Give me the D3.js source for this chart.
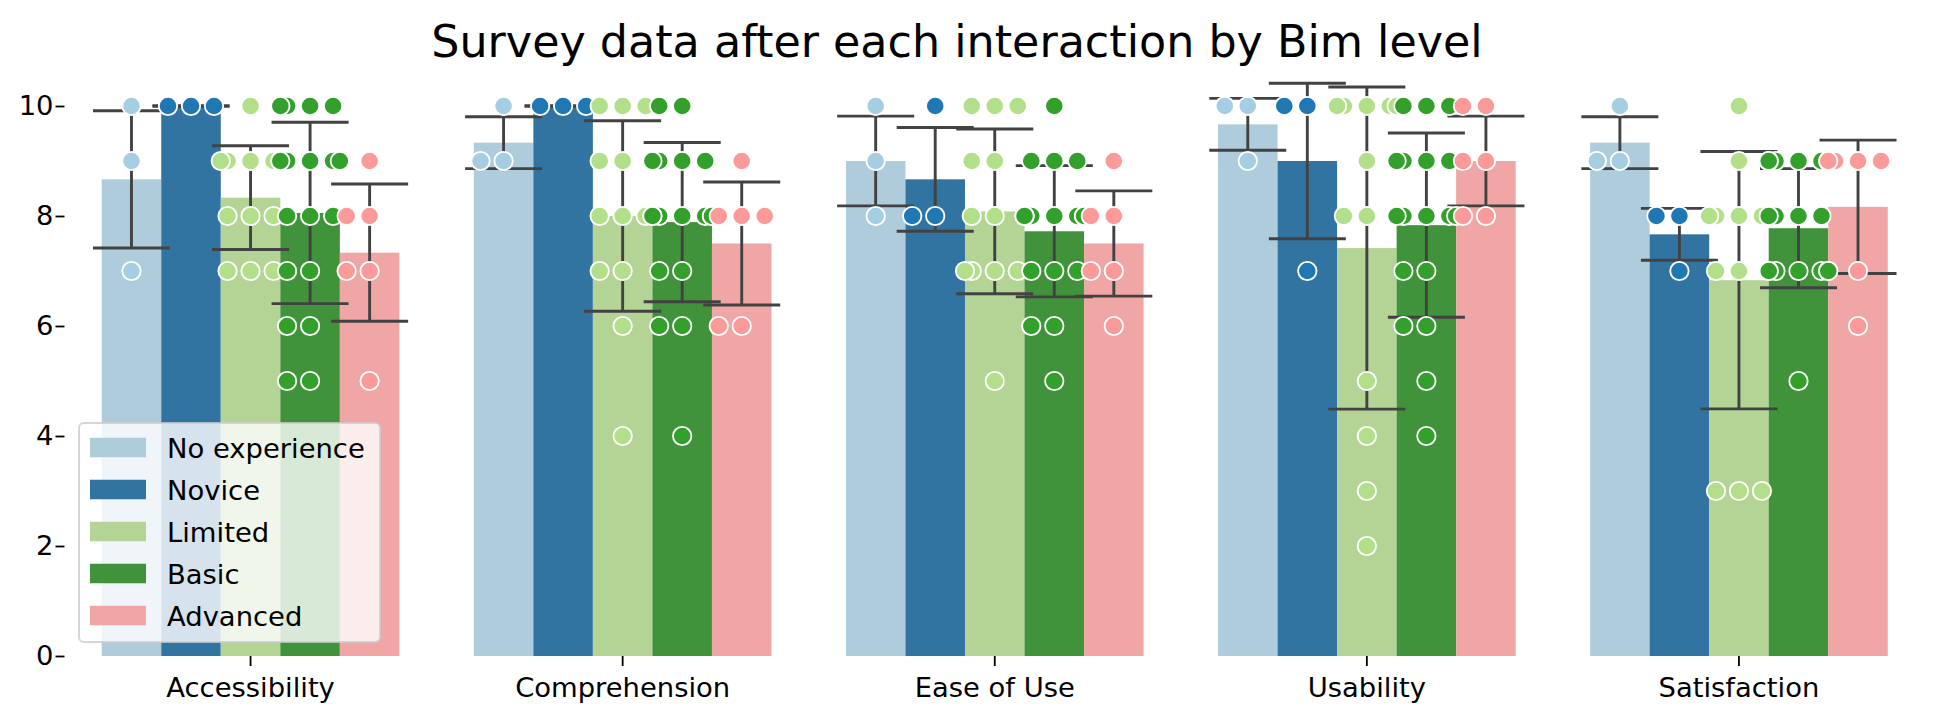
<!DOCTYPE html>
<html><head><meta charset="utf-8">
<script src="https://cdn.jsdelivr.net/npm/d3@7"></script>
<style>
body{margin:0;background:#fff;}
text{font-family:"DejaVu Sans",sans-serif;}
</style>
</head><body><svg id="chart" width="1944" height="723"></svg>
<script>
// ---------- data ----------
const title = "Survey data after each interaction by Bim level";
const metrics = ["Accessibility", "Comprehension", "Ease of Use", "Usability", "Satisfaction"];
const levels = ["No experience", "Novice", "Limited", "Basic", "Advanced"];
const pointColors = ["#a6cee3", "#1f78b4", "#b2df8a", "#33a02c", "#fb9a99"];
const yTicks = [0, 2, 4, 6, 8, 10];

// individual ratings, one list per BIM level (same order as `levels`)
const accessibility = [
  [10, 9, 7],
  [10, 10, 10],
  [10, 9, 9, 9, 9, 9, 8, 8, 8, 7, 7, 7],
  [10, 10, 10, 10, 9, 9, 9, 9, 9, 8, 8, 8, 7, 7, 6, 6, 5, 5],
  [9, 8, 8, 7, 7, 5]
];
const comprehension = [
  [10, 9, 9],
  [10, 10, 10],
  [10, 10, 10, 9, 9, 8, 8, 8, 7, 7, 6, 4],
  [10, 10, 9, 9, 9, 9, 8, 8, 8, 8, 8, 8, 8, 7, 7, 6, 6, 4],
  [9, 8, 8, 8, 6, 6]
];
const easeOfUse = [
  [10, 9, 8],
  [10, 8, 8],
  [10, 10, 10, 9, 9, 8, 8, 7, 7, 7, 7, 5],
  [10, 9, 9, 9, 8, 8, 8, 8, 8, 8, 8, 8, 7, 7, 7, 6, 6, 5],
  [9, 8, 8, 7, 7, 6]
];
const usability = [
  [10, 10, 9],
  [10, 10, 7],
  [10, 10, 10, 10, 10, 9, 8, 8, 5, 4, 3, 2],
  [10, 10, 10, 9, 9, 9, 9, 8, 8, 8, 8, 8, 7, 7, 6, 6, 5, 4],
  [10, 10, 9, 9, 8, 8]
];
const satisfaction = [
  [10, 9, 9],
  [8, 8, 7],
  [10, 9, 8, 8, 8, 8, 8, 7, 7, 3, 3, 3],
  [9, 9, 9, 9, 9, 9, 8, 8, 8, 8, 7, 7, 7, 7, 7, 7, 7, 5],
  [9, 9, 9, 9, 7, 6]
];
const scoresByMetric = [accessibility, comprehension, easeOfUse, usability, satisfaction];

// ---------- layout ----------
const svg = d3.select("#chart");
const panelLeft = 64.5, panelW = 372.1;
const x0 = d3.scaleBand().domain(metrics)
  .range([panelLeft, panelLeft + panelW * metrics.length]).padding(0);
const x1 = d3.scaleBand().domain(levels)
  .range([0.1 * x0.bandwidth(), 0.9 * x0.bandwidth()]).padding(0);
const y = d3.scaleLinear().domain([0, 10]).range([656, 106]);
const barColor = d3.scaleOrdinal().domain(levels).range(pointColors.map(c => {
  const h = d3.hsl(c); h.s *= 0.75; return h.formatHex();
}));
const ptColor = d3.scaleOrdinal().domain(levels).range(pointColors);

svg.append("rect").attr("width", 1944).attr("height", 723).attr("fill", "#fff");

// groups with stats
const groups = [];
metrics.forEach((m, mi) => {
  levels.forEach((l, li) => {
    const vals = scoresByMetric[mi][li];
    const mean = d3.mean(vals);
    const sd = Math.sqrt(d3.mean(vals, v => (v - mean) * (v - mean)));
    groups.push({metric: m, level: l, vals, mean, sd,
      cx: x0(m) + x1(l) + x1.bandwidth() / 2});
  });
});

// bars
svg.append("g").selectAll("rect").data(groups).join("rect")
  .attr("x", d => x0(d.metric) + x1(d.level))
  .attr("width", x1.bandwidth())
  .attr("y", d => y(d.mean))
  .attr("height", d => y(0) - y(d.mean))
  .attr("fill", d => barColor(d.level));

// error bars (mean ± sd)
const capHalf = x0.bandwidth() * 0.1035;
const eg = svg.append("g").attr("stroke", "#424242").attr("stroke-width", 2.9).attr("fill", "none");
groups.forEach(d => {
  const lo = y(d.mean - d.sd), hi = y(d.mean + d.sd);
  eg.append("line").attr("x1", d.cx).attr("x2", d.cx).attr("y1", lo).attr("y2", hi);
  eg.append("line").attr("x1", d.cx - capHalf).attr("x2", d.cx + capHalf).attr("y1", lo).attr("y2", lo);
  eg.append("line").attr("x1", d.cx - capHalf).attr("x2", d.cx + capHalf).attr("y1", hi).attr("y2", hi);
});

// swarm points
const step = 23, gutter = x1.bandwidth() / 2;
const pts = [];
groups.forEach(d => {
  const seen = new Map();
  d.vals.forEach(v => {
    const k = seen.get(v) || 0; seen.set(v, k + 1);
    let off = 0;
    if (k > 0) off = (k % 2 === 1 ? -1 : 1) * Math.ceil(k / 2) * step;
    off = Math.max(-gutter, Math.min(gutter, off));
    pts.push({level: d.level, x: d.cx + off, v});
  });
});
svg.append("g").selectAll("circle").data(pts).join("circle")
  .attr("cx", d => d.x).attr("cy", d => y(d.v)).attr("r", 9.2)
  .attr("fill", d => ptColor(d.level))
  .attr("stroke", "#fff").attr("stroke-width", 1.8);

// y axis (first panel only)
const yAx = svg.append("g").attr("transform", `translate(${panelLeft},0)`)
  .call(d3.axisLeft(y).tickValues(yTicks).tickSize(9).tickPadding(2));
yAx.select(".domain").remove();
yAx.selectAll("line").attr("stroke", "#000").attr("stroke-width", 1.8);
yAx.selectAll("text").attr("font-size", 27.4).attr("fill", "#000")
  .attr("font-family", "DejaVu Sans");

// x axis (one tick per panel)
const xAx = svg.append("g").attr("transform", `translate(0,${y(0)})`)
  .call(d3.axisBottom(x0).tickSize(10).tickPadding(11.5));
xAx.select(".domain").remove();
xAx.selectAll("line").attr("stroke", "#000").attr("stroke-width", 1.8);
xAx.selectAll("text").attr("font-size", 27.4).attr("fill", "#000")
  .attr("font-family", "DejaVu Sans");

// legend
const lg = svg.append("g");
lg.append("rect").attr("x", 79).attr("y", 423).attr("width", 301).attr("height", 219)
  .attr("rx", 5).attr("fill", "#fff").attr("fill-opacity", 0.8)
  .attr("stroke", "#cccccc").attr("stroke-opacity", 0.8).attr("stroke-width", 2);
levels.forEach((l, i) => {
  const cy = 447.5 + 42 * i;
  lg.append("rect").attr("x", 90).attr("y", cy - 9.75).attr("width", 56).attr("height", 19.5)
    .attr("fill", barColor(l));
  lg.append("text").attr("x", 167).attr("y", cy + 10).attr("font-size", 27.4)
    .attr("fill", "#000").text(l);
});

// title
svg.append("text").attr("x", 957).attr("y", 57).attr("text-anchor", "middle")
  .attr("font-size", 44.4).attr("fill", "#000").text(title);
</script>
</body></html>
